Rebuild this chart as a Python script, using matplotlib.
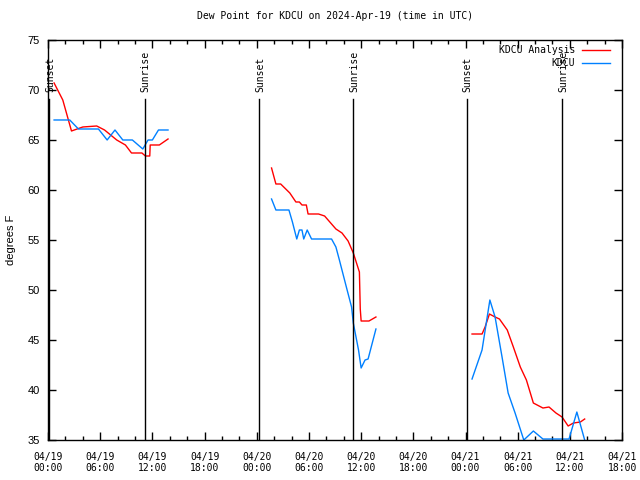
import numpy as np
import matplotlib
matplotlib.use("Agg")
import matplotlib.pyplot as plt
import matplotlib.dates as mdates
from datetime import datetime, timedelta

plt.rcParams["font.family"] = "DejaVu Sans Mono"
plt.rcParams["font.size"] = 7

start = datetime(2024, 4, 19, 0, 0)

# hours since 04/19 00:00 UTC, NaN separates the segments
ana_hours = [0.7, 1.7, 2.7, 4.0, 5.6, 6.5, 7.9, 8.9, 9.6, 10.8, 11.2, 11.7, 11.75, 12.8, 13.8,
             np.nan,
             25.7, 26.2, 26.75, 27.8, 28.5, 28.9, 29.2, 29.7, 29.9, 31.1, 31.8, 32.4, 33.1, 33.8,
             34.5, 35.1, 35.8, 35.9, 36.0, 36.9, 37.7,
             np.nan,
             48.75, 49.9, 50.25, 50.75, 51.4, 51.9, 52.8, 53.5, 54.3, 55.0, 55.8, 56.9, 57.6,
             58.4, 59.1, 59.8, 60.4, 61.2, 61.7]
ana_dewpt = [70.7, 69.0, 65.9, 66.3, 66.4, 66.0, 65.0, 64.5, 63.7, 63.7, 63.4, 63.4, 64.5, 64.5, 65.1,
             np.nan,
             62.2, 60.6, 60.6, 59.7, 58.8, 58.8, 58.5, 58.5, 57.6, 57.6, 57.4, 56.8, 56.1, 55.7,
             54.9, 53.7, 51.8, 48.1, 46.9, 46.9, 47.3,
             np.nan,
             45.6, 45.6, 46.3, 47.6, 47.3, 47.1, 46.0, 44.3, 42.3, 41.0, 38.7, 38.2, 38.3,
             37.7, 37.3, 36.4, 36.7, 36.8, 37.1]

obs_hours = [0.7, 2.5, 3.5, 5.8, 6.8, 7.7, 8.6, 9.7, 10.9, 11.5, 12.0, 12.7, 13.8,
             np.nan,
             25.7, 26.2, 27.7, 28.1, 28.6, 28.9, 29.2, 29.4, 29.8, 30.3, 32.6, 33.1, 33.5, 34.3,
             34.9, 35.1, 35.7, 36.0, 36.45, 36.8, 37.7,
             np.nan,
             48.75, 49.9, 50.8, 51.4, 52.2, 52.9, 53.7, 54.7, 55.8, 56.9, 59.9, 60.8, 61.7]
obs_dewpt = [67.0, 67.0, 66.1, 66.1, 65.0, 66.0, 65.0, 65.0, 64.1, 65.0, 65.0, 66.0, 66.0,
             np.nan,
             59.1, 58.0, 58.0, 56.8, 55.1, 56.0, 56.0, 55.1, 56.0, 55.1, 55.1, 54.3, 53.0, 50.3,
             48.3, 46.7, 44.0, 42.2, 43.0, 43.1, 46.1,
             np.nan,
             41.1, 44.0, 49.0, 47.3, 43.3, 39.7, 37.7, 35.0, 35.9, 35.1, 35.1, 37.8, 35.0]

sun_hours = [0.15, 11.1, 24.3, 35.1, 48.15, 59.1]
sun_labels = ["Sunset", "Sunrise", "Sunset", "Sunrise", "Sunset", "Sunrise"]


def to_num(hours):
    return np.array([mdates.date2num(start + timedelta(hours=h)) if not np.isnan(h) else np.nan
                     for h in hours])


fig = plt.figure(figsize=(6.4, 4.8), dpi=100)
ax = fig.add_axes([0.075, 0.0833, 0.897, 0.8334])

ax.plot(to_num(ana_hours), ana_dewpt, color="#ff0000", lw=1, label="KDCU Analysis")
ax.plot(to_num(obs_hours), obs_dewpt, color="#0080ff", lw=1, label="KDCU")

# sunrise / sunset markers
for h, lab in zip(sun_hours, sun_labels):
    xd = to_num([h])[0]
    ax.plot([xd, xd], [35, 69.1], color="black", lw=1)
    ax.text(to_num([h + 0.12])[0], 69.8, lab, rotation=90, ha="center", va="bottom")

ax.set_xlim(mdates.date2num(start), mdates.date2num(start + timedelta(hours=66)))
ax.set_ylim(35, 75)
ax.set_yticks(range(35, 76, 5))

ax.xaxis.set_major_locator(mdates.HourLocator(byhour=[0, 6, 12, 18]))
ax.xaxis.set_minor_locator(mdates.HourLocator(byhour=range(0, 24, 2)))
ax.xaxis.set_major_formatter(mdates.DateFormatter("%m/%d\n%H:%M"))

ax.tick_params(which="both", direction="in", top=True, right=True, width=1)
ax.tick_params(which="major", length=6)
ax.tick_params(which="minor", length=3)
ax.tick_params(axis="x", which="major", pad=8.5)
ax.tick_params(axis="y", which="major", pad=6, labelsize=8)
for lab in ax.get_yticklabels():
    lab.set_fontfamily("Liberation Sans")
for s in ax.spines.values():
    s.set_linewidth(1)

ax.set_ylabel("degrees F", fontfamily="Liberation Sans", fontsize=8, labelpad=8)
ax.set_title("Dew Point for KDCU on 2024-Apr-19 (time in UTC)", fontsize=7, pad=15)

ax.legend(loc="upper right", bbox_to_anchor=(0.986, 0.996), frameon=False, markerfirst=False,
          handlelength=2.9, borderaxespad=0, labelspacing=0.3, handletextpad=0.7)

fig.savefig("out.png")
